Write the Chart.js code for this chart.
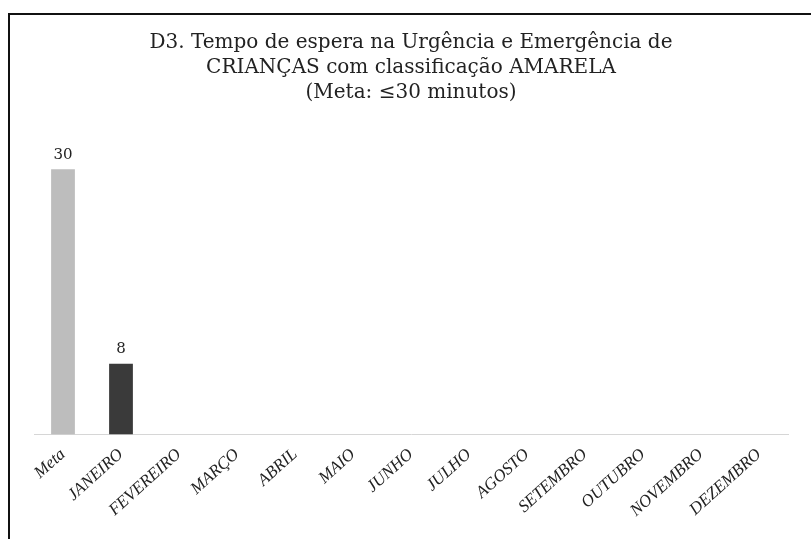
<!DOCTYPE html>
<html>
<head>
<meta charset="utf-8">
<script src="https://cdn.jsdelivr.net/npm/chart.js@4"></script>
<style>
  html, body { margin: 0; padding: 0; background: #fff; }
  #wrap { position: relative; width: 811px; height: 539px; overflow: hidden; }
  #frame { position: absolute; left: 8px; top: 13px; width: 820px; height: 540px;
           border-left: 2px solid #111; border-top: 2px solid #111; }
  #chBar { position: absolute; left: 0; top: 0; }
</style>
</head>
<body>
<div id="wrap">
  <div id="frame"></div>
  <canvas id="chBar" width="811" height="539"></canvas>
</div>
<script>
var categories = ['Meta', 'JANEIRO', 'FEVEREIRO', 'MARÇO', 'ABRIL', 'MAIO', 'JUNHO',
                  'JULHO', 'AGOSTO', 'SETEMBRO', 'OUTUBRO', 'NOVEMBRO', 'DEZEMBRO'];
var waitValues = [30, 8, null, null, null, null, null, null, null, null, null, null, null];
var titleLines = ['D3. Tempo de espera na Urgência e Emergência de',
                  'CRIANÇAS com classificação AMARELA',
                  '(Meta: ≤30 minutos)'];

var barColors = ['#bdbdbd', '#3a3a3a'];
for (var i = 2; i < categories.length; i++) barColors.push('#3a3a3a');

// draws the value above each bar
var valueLabels = {
    id: 'valueLabels',
    afterDatasetsDraw: function (chart) {
        var ctx = chart.ctx;
        var meta = chart.getDatasetMeta(0);
        ctx.save();
        ctx.font = '15px "DejaVu Serif", serif';
        ctx.fillStyle = '#222';
        ctx.textAlign = 'center';
        ctx.textBaseline = 'bottom';
        meta.data.forEach(function (bar, idx) {
            var v = chart.data.datasets[0].data[idx];
            if (v === null || v === undefined) return;
            ctx.fillText(v, bar.x, bar.y - 7);
        });
        ctx.restore();
    }
};

var chBar = document.getElementById('chBar');
new Chart(chBar, {
    type: 'bar',
    data: {
        labels: categories,
        datasets: [{
            data: waitValues,
            backgroundColor: barColors,
            borderWidth: 0,
            barPercentage: 0.5,
            categoryPercentage: 0.82
        }]
    },
    options: {
        responsive: false,
        animation: false,
        layout: { padding: { left: 34, right: 23, top: 18, bottom: 16 } },
        plugins: {
            legend: { display: false },
            tooltip: { enabled: false },
            title: {
                display: true,
                text: titleLines,
                color: '#222',
                font: { family: '"DejaVu Serif", serif', size: 20, weight: 'normal', lineHeight: 1.25 },
                padding: { top: 12, bottom: 20 }
            }
        },
        scales: {
            x: {
                grid: { display: false },
                border: { display: true, color: '#d6d6d6', dash: [3, 8] },
                ticks: {
                    color: '#222',
                    maxRotation: 42,
                    minRotation: 42,
                    autoSkip: false,
                    padding: 2,
                    font: { family: '"Liberation Serif", serif', size: 17, style: 'italic' }
                }
            },
            y: {
                display: false,
                min: 0,
                max: 35
            }
        }
    },
    plugins: [valueLabels]
});
</script>
</body>
</html>
